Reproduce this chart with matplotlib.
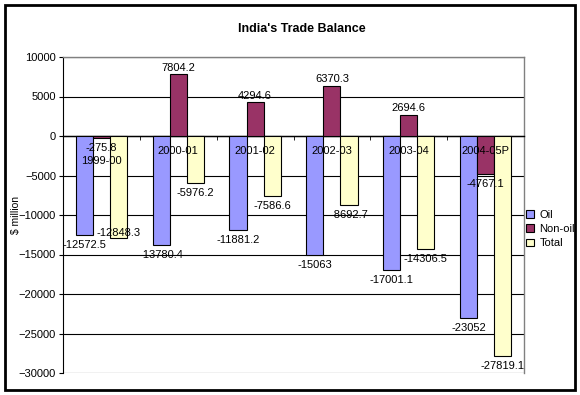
import matplotlib

matplotlib.use('Agg')
import matplotlib.pyplot as plt
import numpy as np
from matplotlib.patches import Rectangle

plt.rcParams['font.family'] = ['Liberation Sans', 'DejaVu Sans']

# data ($ million)
years = ['1999-00', '2000-01', '2001-02', '2002-03', '2003-04', '2004-05P']
oil = [-12572.5, -13780.4, -11881.2, -15063, -17001.1, -23052]
non_oil = [-275.8, 7804.2, 4294.6, 6370.3, 2694.6, -4767.1]
total = [-12848.3, -5976.2, -7586.6, -8692.7, -14306.5, -27819.1]

fig = plt.figure(figsize=(5.8, 3.95), dpi=100)
ax = fig.add_axes([63 / 580, 1 - 373 / 395, 461 / 580, 316 / 395])

x = np.arange(len(years))
w = 0.222
series = [(oil, 'Oil', '#9999FF'),
          (non_oil, 'Non-oil', '#993366'),
          (total, 'Total', '#FFFFCC')]

for k, (vals, name, col) in enumerate(series):
    bars = ax.bar(x + (k - 1) * w, vals, w, color=col, edgecolor='black',
                  linewidth=0.8, label=name, zorder=3)
    for i, (b, v) in enumerate(zip(bars, vals)):
        dy = 1 if v > 0 else -3.5
        # the first Total label sits up on the bar end, as in the original
        if name == 'Total' and i == 0:
            dy = 7
        ax.annotate('%g' % v, (b.get_x() + b.get_width() / 2, v),
                    xytext=(0, dy), textcoords='offset points',
                    ha='center', va='bottom' if v > 0 else 'top',
                    fontsize=8, zorder=5)

# category labels next to the zero line
for i, yr in enumerate(years):
    ax.annotate(yr, (i, 0), xytext=(0, -18 if i == 0 else -11),
                textcoords='offset points', ha='center', va='center',
                fontsize=8, zorder=5)

ax.set_xlim(-0.5, len(years) - 0.5)
ax.set_ylim(-30000, 10000)
ax.set_yticks(range(-30000, 10001, 5000))
ax.yaxis.grid(True, color='black', linewidth=0.8)
ax.set_axisbelow(True)

ax.set_xticks(x)
ax.set_xticklabels([])
ax.set_xticks(np.arange(-0.5, len(years), 1), minor=True)
ax.tick_params(axis='x', which='major', length=0)
ax.tick_params(axis='x', which='minor', length=3, direction='out')
ax.tick_params(axis='y', length=3, labelsize=8, pad=2)

ax.spines['bottom'].set_position(('data', 0))
ax.spines['bottom'].set_linewidth(1)
ax.spines['left'].set_linewidth(0.8)
for s in ['top', 'right']:
    ax.spines[s].set_color('#808080')
    ax.spines[s].set_linewidth(1)

ax.set_ylabel('$ million', fontsize=7.5)
ax.yaxis.set_label_coords(-42 / 461, 0.5)

fig.legend(loc='center left', bbox_to_anchor=(524 / 580, 1 - 229 / 395),
           frameon=False, fontsize=8, handlelength=0.7, handleheight=0.7,
           handletextpad=0.5, labelspacing=0.4, borderaxespad=0, borderpad=0.2)

fig.text(302 / 580, 1 - 29 / 395, "India's Trade Balance", ha='center',
         va='center', fontsize=9, fontweight='bold')

fig.add_artist(Rectangle((5 / 580, 5 / 395), 570 / 580, 385 / 395,
                         transform=fig.transFigure, fill=False,
                         linewidth=2, edgecolor='black'))

fig.savefig('out.png', dpi=100)
